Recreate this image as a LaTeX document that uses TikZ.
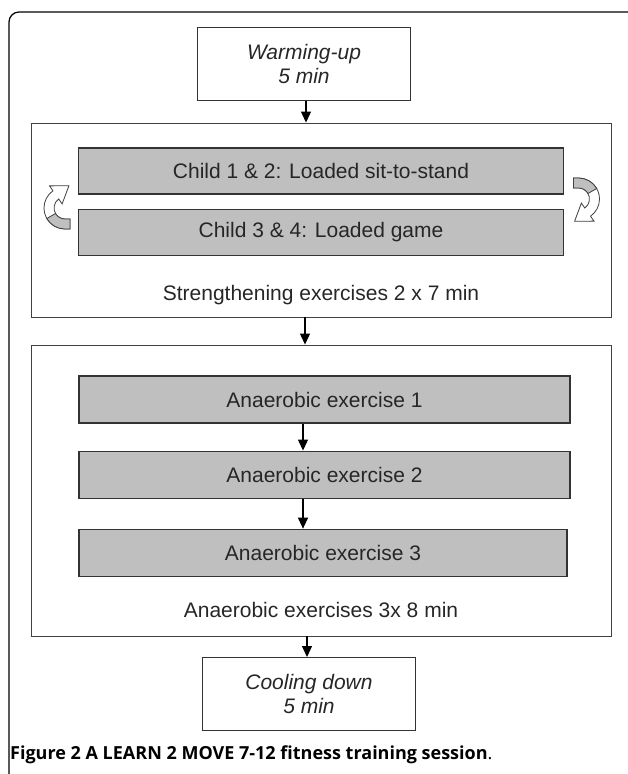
\documentclass[tikz,border=0pt]{standalone}
\usepackage{fontspec}
\setmainfont{Liberation Sans}
\newfontfamily\capfont{Open Sans}
\usetikzlibrary{arrows.meta,calc,positioning}

% curved swap arrow beside the two child boxes
\tikzset{
  swaparrow/.pic={
    \filldraw[fill=white,draw=black!75,line width=0.8pt]
      (5,21) -- (0,21) arc[start angle=90,end angle=235,radius=21]
      -- (235:27) -- ($(235:16)+(325:16)$) -- (235:5) -- (235:11)
      arc[start angle=235,end angle=90,radius=11] -- (5,11) -- cycle;
    \filldraw[fill=black!25,draw=black!75,line width=0.8pt]
      (5,21) -- (0,21) arc[start angle=90,end angle=150,radius=21]
      -- (150:11) arc[start angle=150,end angle=90,radius=11] -- (5,11) -- cycle;
  }
}

\begin{document}
\begin{tikzpicture}[x=1pt,y=-1pt,
  every node/.style={font=\fontsize{21}{24}\selectfont,text=black!85},
  outer/.style={draw=black!75,line width=0.9pt,minimum width=580pt,inner sep=0pt},
  stepbox/.style={draw=black!80,line width=1.1pt,fill=black!25,minimum width=485pt,minimum height=46pt,inner sep=0pt},
  endbox/.style={draw=black!80,line width=1pt,align=center,minimum width=213pt,minimum height=73pt,inner sep=0pt,font=\fontsize{21}{24}\selectfont\itshape},
  flow/.style={-{Triangle[width=10pt,length=11pt]},line width=1.1pt},
  frame/.style={line width=1.2pt,rounded corners=10pt}]
  \useasboundingbox (0,0) rectangle (627,774);
  \draw[frame] (9,775) -- (9,12) -- (628,12);

  \node[endbox] (warm) at (304,64) {Warming-up\\5 min};

  \node[outer,minimum height=194pt] (strength) at (321,220) {};
  \node[stepbox] (child12) at (321,171) {Child 1 \& 2: Loaded sit-to-stand};
  \node[stepbox,below=14pt of child12] (child34) {Child 3 \& 4: Loaded game};
  \node (strlabel) at (321,295) {Strengthening exercises 2 x 7 min};
  \pic at (65,208) {swaparrow};
  \pic[rotate=180] at (578.5,199) {swaparrow};

  \node[outer,minimum height=291pt] (anaer) at (321,490.5) {};
  \node[stepbox,minimum width=491pt,minimum height=47pt] (ex1) at (324.5,399.5) {Anaerobic exercise 1};
  \node[stepbox,minimum width=491pt,minimum height=47pt,below=27pt of ex1] (ex2) {Anaerobic exercise 2};
  \node[stepbox,minimum width=488pt,minimum height=47pt,below=30pt of ex2.south west,anchor=north west] (ex3) {Anaerobic exercise 3};
  \node (anlabel) at (321,610) {Anaerobic exercises 3x 8 min};

  \node[endbox] (cool) at (309,694) {Cooling down\\5 min};

  \node[anchor=west,inner sep=0pt,text=black,font=\capfont\fontsize{18}{21}\selectfont] (caption) at (10,755)
    {\bfseries Figure 2 A LEARN 2 MOVE 7-12 fitness training session{\mdseries.}};

  \draw[flow] (warm.south -| 306,0) -- (strength.north -| 306,0);
  \draw[flow] (strength.south -| 305,0) -- (anaer.north -| 305,0);
  \draw[flow] (ex1.south -| 303,0) -- (ex2.north -| 303,0);
  \draw[flow] (ex2.south -| 303,0) -- (ex3.north -| 303,0);
  \draw[flow] (anaer.south -| 307,0) -- (cool.north -| 307,0);
\end{tikzpicture}
\end{document}
